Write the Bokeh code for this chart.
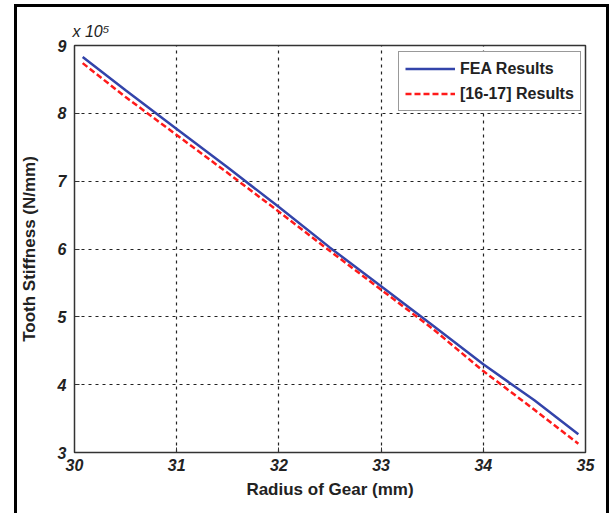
from bokeh.plotting import figure
from bokeh.models import Range1d, Legend, LegendItem, FixedTicker, InlineStyleSheet
from bokeh.embed import file_html
from bokeh.resources import INLINE

# Data (stiffness in units of 1e5 N/mm)
radius = [30.08, 30.5, 31.0, 31.5, 32.0, 32.5, 33.0, 33.5, 34.0, 34.5, 34.93]
fea = [8.83, 8.34, 7.77, 7.20, 6.62, 6.02, 5.45, 4.88, 4.30, 3.77, 3.27]
ref = [8.74, 8.24, 7.68, 7.12, 6.55, 5.97, 5.40, 4.83, 4.20, 3.63, 3.13]
x_ticks = [30, 31, 32, 33, 34, 35]
y_ticks = [3, 4, 5, 6, 7, 8, 9]
scale_label = "x 10\u2075"

FONT = "Liberation Sans"

p = figure(width=611, height=513, output_backend="svg", toolbar_location=None,
           x_range=Range1d(30, 35), y_range=Range1d(3, 9), title=scale_label,
           min_border_left=74, min_border_right=26, min_border_top=45, min_border_bottom=61)
p.background_fill_color = "white"
p.border_fill_color = "white"
p.outline_line_color = "#333333"
p.outline_line_width = 1.5

p.title.text_font = FONT
p.title.text_font_style = "italic"
p.title.text_font_size = "16px"
p.title.text_color = "#222222"
p.title.align = "left"
p.title.offset = -2
p.title.standoff = 11

for ax in (p.xaxis[0], p.yaxis[0]):
    ax.major_tick_in = 5
    ax.major_tick_out = 0
    ax.minor_tick_line_color = None
    ax.axis_line_color = "#333333"
    ax.major_tick_line_color = "#333333"
    ax.major_label_text_font = FONT
    ax.major_label_text_font_style = "bold italic"
    ax.major_label_text_font_size = "16px"
    ax.major_label_text_color = "#222222"
    ax.axis_label_text_font = FONT
    ax.axis_label_text_font_style = "bold"
    ax.axis_label_text_font_size = "17px"
    ax.axis_label_text_color = "#222222"

p.xaxis.ticker = FixedTicker(ticks=x_ticks)
p.yaxis.ticker = FixedTicker(ticks=y_ticks)
p.xaxis.axis_label = "Radius of Gear (mm)"
p.yaxis.axis_label = "Tooth Stiffness (N/mm)"
p.xaxis.major_label_standoff = 6
p.yaxis.major_label_standoff = 8
p.xaxis.axis_label_standoff = 6
p.yaxis.axis_label_standoff = 16

p.grid.grid_line_color = "#222222"
p.grid.grid_line_dash = "3 4"
p.grid.grid_line_width = 1.2
p.xgrid.ticker = FixedTicker(ticks=x_ticks)
p.ygrid.ticker = FixedTicker(ticks=y_ticks)

r1 = p.line(radius, fea, line_color="#3344aa", line_width=2.5)
r2 = p.line(radius, ref, line_color="#ff1a1a", line_width=2.5, line_dash="6 3")

legend = Legend(items=[LegendItem(label="FEA Results", renderers=[r1]),
                       LegendItem(label="[16-17] Results", renderers=[r2])],
                location=(324, 341))
legend.label_text_font = FONT
legend.label_text_font_style = "bold"
legend.label_text_font_size = "16px"
legend.label_text_color = "#222222"
legend.glyph_width = 50
legend.label_height = 21
legend.glyph_height = 21
legend.spacing = 4
legend.padding = 6
legend.margin = 0
legend.border_line_color = "#333333"
legend.border_line_width = 1.5
legend.background_fill_alpha = 1
p.add_layout(legend)

p.stylesheets = [InlineStyleSheet(css=""":host::after {
  content: ""; position: absolute; left: 14px; top: 4px; width: 595px; height: 509px;
  border: 3px solid black; border-bottom: none; box-sizing: border-box; pointer-events: none;
}
:host { position: relative; }""")]

open("out.html", "w").write(file_html(p, INLINE))
